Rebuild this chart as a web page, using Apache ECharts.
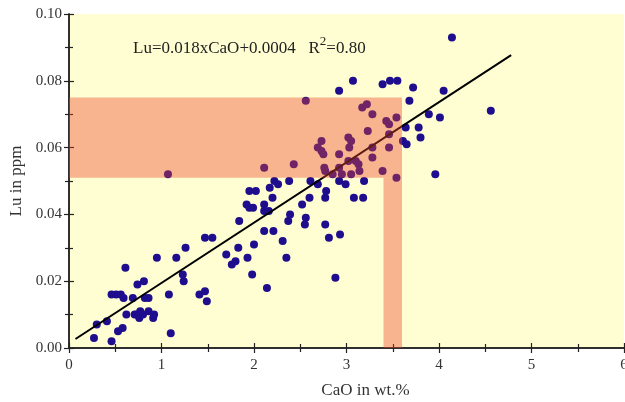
<!DOCTYPE html>
<html>
<head>
<meta charset="utf-8">
<script src="https://cdn.jsdelivr.net/npm/echarts@6/dist/echarts.min.js"></script>
<style>
  html, body { margin: 0; padding: 0; background: #fff; }
  #chart { width: 625px; height: 402px; }
</style>
</head>
<body>
<div id="chart"></div>
<script>
// CaO (wt.%) vs Lu (ppm) samples
const samples = [
  [0.27, 0.003], [0.30, 0.007], [0.41, 0.008], [0.46, 0.002], [0.53, 0.005], [0.58, 0.006],
  [0.46, 0.016], [0.51, 0.016], [0.56, 0.016], [0.59, 0.015], [0.61, 0.024], [0.62, 0.010],
  [0.69, 0.015], [0.74, 0.019], [0.81, 0.020], [0.71, 0.010], [0.73, 0.010], [0.77, 0.011],
  [0.76, 0.009], [0.80, 0.010], [0.82, 0.015], [0.86, 0.015], [0.86, 0.011], [0.92, 0.010],
  [0.91, 0.009], [0.95, 0.027], [1.08, 0.016], [1.10, 0.0044], [1.16, 0.027], [1.23, 0.022],
  [1.24, 0.020], [1.26, 0.030], [1.41, 0.016], [1.47, 0.017], [1.49, 0.014], [1.47, 0.033],
  [1.55, 0.033], [1.70, 0.028], [1.76, 0.025], [1.80, 0.026], [1.83, 0.030], [1.84, 0.038],
  [1.93, 0.027], [1.98, 0.022], [2.00, 0.031], [1.92, 0.043], [1.95, 0.042], [1.99, 0.042],
  [2.11, 0.035], [2.21, 0.035], [2.14, 0.018], [2.11, 0.043], [2.11, 0.041], [2.16, 0.041],
  [2.31, 0.032], [2.35, 0.027], [2.37, 0.038], [2.39, 0.040], [2.52, 0.043], [2.55, 0.037],
  [2.56, 0.039], [2.77, 0.037], [2.81, 0.033], [2.93, 0.034], [2.88, 0.021],
  [2.20, 0.045], [2.60, 0.045], [2.77, 0.045], [3.08, 0.045], [3.18, 0.045], [2.78, 0.047],
  [1.95, 0.047], [2.02, 0.047], [2.17, 0.048], [2.22, 0.050], [2.26, 0.049], [2.38, 0.050],
  [2.61, 0.050], [2.69, 0.049], [2.92, 0.050], [2.99, 0.049], [3.19, 0.050],
  [1.07, 0.052], [2.11, 0.054], [2.43, 0.055], [2.76, 0.054],
  [2.56, 0.074], [2.92, 0.077], [3.07, 0.080], [3.39, 0.079], [3.47, 0.080], [3.55, 0.080],
  [3.72, 0.078], [3.68, 0.074], [3.17, 0.072], [3.22, 0.073], [3.28, 0.070], [3.54, 0.069],
  [3.43, 0.068], [3.46, 0.067], [3.23, 0.065], [3.46, 0.064], [3.64, 0.066], [3.78, 0.066],
  [3.61, 0.062], [3.65, 0.061], [3.80, 0.063], [2.73, 0.062], [3.02, 0.063], [3.05, 0.062],
  [3.03, 0.060], [2.69, 0.060], [2.73, 0.059], [2.75, 0.058], [2.92, 0.058], [3.28, 0.060],
  [3.46, 0.060], [3.28, 0.057], [3.10, 0.056], [3.13, 0.055], [3.02, 0.056], [2.92, 0.054],
  [2.77, 0.053], [2.85, 0.052], [2.95, 0.052], [3.05, 0.052], [3.14, 0.053], [3.39, 0.053],
  [3.54, 0.051], [4.14, 0.093], [4.05, 0.077], [4.56, 0.071], [3.89, 0.070], [4.01, 0.069],
  [3.96, 0.052]
]

// regression line end points
const fitLine = [[0.07, 0.0027], [4.78, 0.0877]]

// shaded ranges: [xFrom, yFrom, xTo, yTo]
const bands = [
  [0, 0.051, 3.6, 0.075],
  [3.4, 0, 3.6, 0.051]
]

const xTicks = { min: 0, max: 6, step: 1 }
const yTicks = { min: 0, max: 0.1, step: 0.02 }

const serif = 'Liberation Serif'

const myChart = echarts.init(document.getElementById('chart'))

const axisBase = {
  axisLine: { lineStyle: { color: '#222', width: 1.5 } },
  axisTick: { inside: true, length: 5, lineStyle: { color: '#222', width: 1.2 } },
  minorTick: { show: true, splitNumber: 2, length: 4, lineStyle: { color: '#222', width: 1.2 } },
  splitLine: { show: false },
  minorSplitLine: { show: false }
}

const option = {
  animation: false,
  grid: {
    left: 69, right: 1, top: 14, bottom: 54,
    outerBoundsMode: 'none',
    containLabel: false,
    show: true,
    backgroundColor: '#fffed2',
    borderWidth: 0
  },
  xAxis: [
    Object.assign({}, axisBase, {
      type: 'value',
      min: xTicks.min, max: xTicks.max, interval: xTicks.step,
      name: 'CaO in wt.%',
      nameLocation: 'middle',
      nameGap: 34,
      nameTextStyle: { fontFamily: serif, fontSize: 17, color: '#333', padding: [0, 0, 0, 38] },
      axisLabel: { fontFamily: serif, fontSize: 15, color: '#333', margin: 10 }
    }),
    Object.assign({}, axisBase, {
      type: 'value', position: 'top',
      min: xTicks.min, max: xTicks.max, interval: xTicks.step,
      axisLabel: { show: false }
    })
  ],
  yAxis: [
    Object.assign({}, axisBase, {
      type: 'value',
      min: yTicks.min, max: yTicks.max, interval: yTicks.step,
      name: 'Lu in ppm',
      nameLocation: 'middle',
      nameGap: 44,
      nameTextStyle: { fontFamily: serif, fontSize: 17, color: '#333' },
      axisLabel: {
        fontFamily: serif, fontSize: 15, color: '#333', margin: 7,
        formatter: v => v.toFixed(2)
      }
    }),
    Object.assign({}, axisBase, {
      type: 'value', position: 'right',
      min: yTicks.min, max: yTicks.max, interval: yTicks.step,
      axisLabel: { show: false }
    })
  ],
  graphic: [
    {
      type: 'text',
      left: 133,
      top: 35,
      style: {
        text: '{n|Lu=0.018xCaO+0.0004   R}{s|2}{n|=0.80}',
        rich: {
          n: { fontFamily: serif, fontSize: 17, fill: '#222', verticalAlign: 'bottom', lineHeight: 22 },
          s: { fontFamily: serif, fontSize: 13, fill: '#222', verticalAlign: 'top', lineHeight: 22, padding: [0, 0, 6, 0] }
        }
      }
    }
  ],
  series: [
    {
      name: 'samples',
      type: 'scatter',
      data: samples,
      symbolSize: 8,
      itemStyle: { color: '#1e0e8e', opacity: 1 },
      z: 2
    },
    {
      name: 'fit',
      type: 'line',
      data: fitLine,
      symbol: 'none',
      lineStyle: { color: '#000', width: 2 },
      z: 3
    },
    {
      name: 'bands',
      type: 'line',
      data: [],
      z: 4,
      markArea: {
        silent: true,
        z: 10,
        itemStyle: { color: 'rgba(235,70,40,0.4)' },
        data: bands.map(b => [{ coord: [b[0], b[1]] }, { coord: [b[2], b[3]] }])
      }
    }
  ]
}

myChart.setOption(option)
</script>
</body>
</html>
